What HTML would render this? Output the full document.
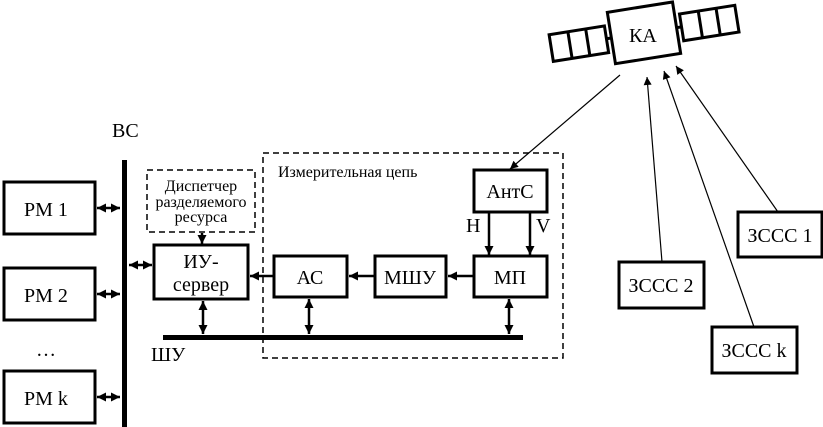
<!DOCTYPE html>
<html><head><meta charset="utf-8"><style>
html,body{margin:0;padding:0;background:#fff;}
svg{display:block;}
svg text{font-family:"Liberation Serif","DejaVu Serif",serif;}
</style></head><body>
<svg width="823" height="427" viewBox="0 0 823 427" xmlns="http://www.w3.org/2000/svg">
<defs>
<marker id="a" viewBox="0 0 10 10" refX="10" refY="5" markerWidth="9" markerHeight="9" orient="auto-start-reverse" markerUnits="userSpaceOnUse"><path d="M0,0L10,5L0,10z" fill="#000"/></marker>
<marker id="t" viewBox="0 0 10 10" refX="10" refY="5" markerWidth="11" markerHeight="8" orient="auto" markerUnits="userSpaceOnUse"><path d="M0,0L10,5L0,10z" fill="#000"/></marker>
</defs>
<g fill="none" stroke="#000">
<rect x="263" y="153" width="300" height="205" stroke-width="1.5" stroke-dasharray="6,4"/>
<rect x="147" y="170" width="108" height="62" stroke-width="1.5" stroke-dasharray="6,4"/>
<rect x="4" y="182" width="91" height="52" stroke-width="3"/>
<rect x="4" y="268" width="91" height="52" stroke-width="3"/>
<rect x="4" y="371" width="91" height="52" stroke-width="3"/>
<rect x="154" y="245" width="94" height="54" stroke-width="3"/>
<rect x="274" y="256" width="73" height="41" stroke-width="3"/>
<rect x="375" y="256" width="71" height="41" stroke-width="3"/>
<rect x="474" y="256" width="73" height="41" stroke-width="3"/>
<rect x="474" y="170" width="73" height="42" stroke-width="3"/>
<rect x="738" y="212" width="84" height="45" stroke-width="3"/>
<rect x="619" y="262" width="85" height="46" stroke-width="3"/>
<rect x="712" y="327" width="85" height="46" stroke-width="3"/>
</g>
<rect x="122" y="160" width="5" height="267" fill="#000"/>
<rect x="163" y="335" width="360" height="5" fill="#000"/>
<g stroke="#000" stroke-width="2.5" fill="none">
<line x1="97" y1="208" x2="120" y2="208" marker-start="url(#a)" marker-end="url(#a)"/>
<line x1="97" y1="294" x2="120" y2="294" marker-start="url(#a)" marker-end="url(#a)"/>
<line x1="97" y1="397" x2="120" y2="397" marker-start="url(#a)" marker-end="url(#a)"/>
<line x1="129" y1="265" x2="152" y2="265" marker-start="url(#a)" marker-end="url(#a)"/>
<line x1="203" y1="301" x2="203" y2="334" marker-start="url(#a)" marker-end="url(#a)"/>
<line x1="309" y1="299" x2="309" y2="334" marker-start="url(#a)" marker-end="url(#a)"/>
<line x1="509" y1="299" x2="509" y2="334" marker-start="url(#a)" marker-end="url(#a)"/>
<line x1="202" y1="233" x2="202" y2="244" marker-end="url(#a)"/>
<line x1="473" y1="276" x2="448" y2="276" marker-end="url(#a)"/>
<line x1="374" y1="276" x2="349" y2="276" marker-end="url(#a)"/>
<line x1="273" y1="276" x2="250" y2="276" marker-end="url(#a)"/>
<line x1="489" y1="212" x2="489" y2="255" marker-end="url(#a)"/>
<line x1="530" y1="212" x2="530" y2="255" marker-end="url(#a)"/>
</g>
<g stroke="#000" stroke-width="1.2">
<line x1="620" y1="75" x2="510" y2="169" marker-end="url(#t)"/>
<line x1="662" y1="262" x2="647" y2="77" marker-end="url(#t)"/>
<line x1="754" y1="327" x2="664" y2="71" marker-end="url(#t)"/>
<line x1="778" y1="212" x2="676" y2="66" marker-end="url(#t)"/>
</g>
<g transform="rotate(-9 643 33)" fill="none" stroke="#000" stroke-width="3">
<rect x="611" y="7" width="66" height="52"/>
<rect x="550" y="20" width="56" height="27"/>
<line x1="569" y1="20" x2="569" y2="47"/><line x1="587" y1="20" x2="587" y2="47"/>
<line x1="606" y1="33" x2="611" y2="33"/>
<rect x="682" y="20" width="56" height="27"/>
<line x1="701" y1="20" x2="701" y2="47"/><line x1="719" y1="20" x2="719" y2="47"/>
<line x1="677" y1="33" x2="682" y2="33"/>
</g>
<g font-size="20" fill="#000">
<text x="629" y="42">КА</text>
<text x="112" y="137">ВС</text>
<text x="24" y="216">РМ 1</text>
<text x="24" y="302">РМ 2</text>
<text x="24" y="405">РМ k</text>
<text x="36" y="356">…</text>
<text x="201" y="268" text-anchor="middle">ИУ-</text>
<text x="201" y="291" text-anchor="middle">сервер</text>
<text x="310" y="284" text-anchor="middle">АС</text>
<text x="410" y="284" text-anchor="middle">МШУ</text>
<text x="510" y="284" text-anchor="middle">МП</text>
<text x="510" y="198" text-anchor="middle">АнтС</text>
<text x="466" y="232">H</text>
<text x="536" y="232">V</text>
<text x="151" y="361">ШУ</text>
<text x="780" y="242" text-anchor="middle">ЗССС 1</text>
<text x="661" y="292" text-anchor="middle">ЗССС 2</text>
<text x="754" y="357" text-anchor="middle">ЗССС k</text>
</g>
<g font-size="16" fill="#000">
<text x="278" y="177">Измерительная цепь</text>
<text x="201" y="191" text-anchor="middle">Диспетчер</text>
<text x="201" y="207" text-anchor="middle">разделяемого</text>
<text x="201" y="222" text-anchor="middle">ресурса</text>
</g>
</svg>
</body></html>
